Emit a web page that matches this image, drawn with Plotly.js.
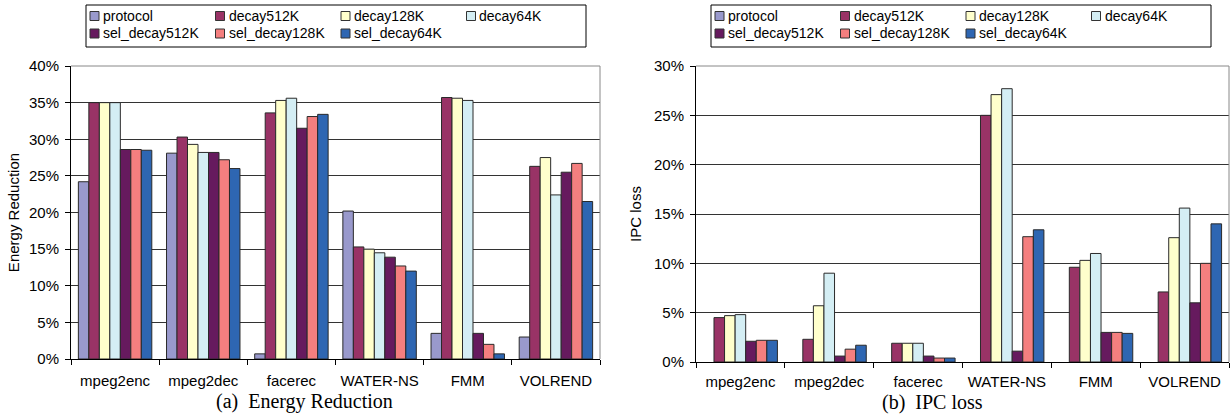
<!DOCTYPE html>
<html>
<head>
<meta charset="utf-8">
<script src="https://cdn.plot.ly/plotly-3.0.1.min.js"></script>
<style>html,body{margin:0;padding:0;background:#fff;}#chart{width:1230px;height:417px;}</style>
</head>
<body>
<div id="chart"></div>
<script>
// ---- data ----
const categories = ["mpeg2enc", "mpeg2dec", "facerec", "WATER-NS", "FMM", "VOLREND"];
const seriesNames = ["protocol", "decay512K", "decay128K", "decay64K", "sel_decay512K", "sel_decay128K", "sel_decay64K"];

// (a) Energy Reduction (%)
const energyProtocol   = [24.2, 28.1, 0.7, 20.2, 3.5, 3.0];
const energyDecay512K  = [35.0, 30.3, 33.6, 15.3, 35.7, 26.3];
const energyDecay128K  = [35.0, 29.3, 35.3, 15.0, 35.6, 27.5];
const energyDecay64K   = [35.0, 28.2, 35.6, 14.5, 35.3, 22.4];
const energySel512K    = [28.6, 28.2, 31.5, 13.9, 3.5, 25.5];
const energySel128K    = [28.6, 27.2, 33.1, 12.7, 2.0, 26.7];
const energySel64K     = [28.5, 26.0, 33.4, 12.0, 0.7, 21.5];

// (b) IPC loss (%)
const ipcProtocol   = [0, 0, 0, 0, 0, 0];
const ipcDecay512K  = [4.5, 2.3, 1.9, 25.0, 9.6, 7.1];
const ipcDecay128K  = [4.7, 5.7, 1.9, 27.1, 10.3, 12.6];
const ipcDecay64K   = [4.8, 9.0, 1.9, 27.7, 11.0, 15.6];
const ipcSel512K    = [2.1, 0.6, 0.6, 1.1, 3.0, 6.0];
const ipcSel128K    = [2.2, 1.3, 0.4, 12.7, 3.0, 10.0];
const ipcSel64K     = [2.2, 1.7, 0.4, 13.4, 2.9, 14.0];

const energyTicks = [0, 5, 10, 15, 20, 25, 30, 35, 40];
const energyTickText = ["0%", "5%", "10%", "15%", "20%", "25%", "30%", "35%", "40%"];
const ipcTicks = [0, 5, 10, 15, 20, 25, 30];
const ipcTickText = ["0%", "5%", "10%", "15%", "20%", "25%", "30%"];

// ---- styling ----
const colors = ["#9999CC", "#993366", "#FFFFCC", "#D4EEF4", "#661A5E", "#F47F7F", "#2E66B2"];
const energySeries = [energyProtocol, energyDecay512K, energyDecay128K, energyDecay64K, energySel512K, energySel128K, energySel64K];
const ipcSeries = [ipcProtocol, ipcDecay512K, ipcDecay128K, ipcDecay64K, ipcSel512K, ipcSel128K, ipcSel64K];

const outlineWidths = vals => vals.map(v => (v === 0 ? 0 : 1));
const traces = [];
seriesNames.forEach((n, i) => {
  traces.push({type: "bar", name: n, x: categories, y: energySeries[i], xaxis: "x", yaxis: "y",
    marker: {color: colors[i], line: {color: "#2a2a2a", width: outlineWidths(energySeries[i])}}, showlegend: false, hoverinfo: "skip"});
});
seriesNames.forEach((n, i) => {
  traces.push({type: "bar", name: n, x: categories, y: ipcSeries[i], xaxis: "x2", yaxis: "y2",
    marker: {color: colors[i], line: {color: "#2a2a2a", width: outlineWidths(ipcSeries[i])}}, showlegend: false, hoverinfo: "skip"});
});

const W = 1230, H = 417;
const fx = p => p / W, fy = p => 1 - p / H;
const font = {family: "Liberation Sans, Arial, sans-serif", size: 15, color: "#000"};
const legFont = {family: "Liberation Sans, Arial, sans-serif", size: 14, color: "#000"};

const xCommon = {type: "category", showline: true, linecolor: "#000", linewidth: 1, ticks: "outside", ticklen: 5,
  tickcolor: "#000", tickson: "boundaries", showgrid: false, tickfont: font, fixedrange: true};
const yCommon = {showline: true, linecolor: "#000", linewidth: 1, ticks: "outside", ticklen: 5, tickcolor: "#000",
  showgrid: true, gridcolor: "#333", gridwidth: 1, zeroline: false, tickfont: font, ticklabelstandoff: 3, fixedrange: true};

// ---- plot frame (grey top/right) and hand-drawn legend boxes (one per panel) ----
const shapes = [
  {type: "line", xref: "x domain", yref: "y domain", x0: 0, x1: 1, y0: 1, y1: 1, line: {color: "#888", width: 1}, layer: "above"},
  {type: "line", xref: "x domain", yref: "y domain", x0: 1, x1: 1, y0: 0, y1: 1, line: {color: "#888", width: 1}, layer: "above"},
  {type: "line", xref: "x2 domain", yref: "y2 domain", x0: 0, x1: 1, y0: 1, y1: 1, line: {color: "#888", width: 1}, layer: "above"},
  {type: "line", xref: "x2 domain", yref: "y2 domain", x0: 1, x1: 1, y0: 0, y1: 1, line: {color: "#888", width: 1}, layer: "above"}
];
const annotations = [
  {text: "(a)\u00a0 Energy Reduction", xref: "paper", yref: "paper", x: fx(304), y: fy(401), xanchor: "center", yanchor: "middle",
    showarrow: false, font: {family: "Liberation Serif, Times New Roman, serif", size: 20, color: "#000"}},
  {text: "(b)\u00a0 IPC loss", xref: "paper", yref: "paper", x: fx(932), y: fy(402), xanchor: "center", yanchor: "middle",
    showarrow: false, font: {family: "Liberation Serif, Times New Roman, serif", size: 20, color: "#000"}}
];
[86, 711].forEach(left => {
  shapes.push({type: "rect", xref: "paper", yref: "paper", x0: fx(left), x1: fx(left + 500), y0: fy(47), y1: fy(5),
    line: {color: "#000", width: 1}, fillcolor: "#fff", layer: "above"});
  seriesNames.forEach((n, i) => {
    const col = i % 4, row = Math.floor(i / 4);
    const sx = left + 4 + col * 125.5, cy = 16 + row * 17.5;
    shapes.push({type: "rect", xref: "paper", yref: "paper", x0: fx(sx), x1: fx(sx + 9), y0: fy(cy + 4.5), y1: fy(cy - 4.5),
      line: {color: "#333", width: 1}, fillcolor: colors[i], layer: "above"});
    annotations.push({text: n, xref: "paper", yref: "paper", x: fx(sx + 11), y: fy(cy), xanchor: "left", yanchor: "middle",
      showarrow: false, font: legFont});
  });
});

const layout = {
  width: W, height: H, margin: {l: 0, r: 0, t: 0, b: 0}, paper_bgcolor: "#fff", plot_bgcolor: "#fff",
  barmode: "group", bargap: 0.167, bargroupgap: 0, showlegend: false, font: font,
  xaxis: Object.assign({}, xCommon, {domain: [fx(71), fx(600)], anchor: "y", ticklabelstandoff: 8}),
  yaxis: Object.assign({}, yCommon, {domain: [fy(359), fy(66)], range: [0, 40], tickvals: energyTicks, ticktext: energyTickText, anchor: "x",
    title: {text: "Energy Reduction", font: font, standoff: 5}}),
  xaxis2: Object.assign({}, xCommon, {domain: [fx(696), fx(1229)], anchor: "y2", ticklabelstandoff: 6}),
  yaxis2: Object.assign({}, yCommon, {domain: [fy(362), fy(66)], range: [0, 30], tickvals: ipcTicks, ticktext: ipcTickText, anchor: "x2",
    title: {text: "IPC loss", font: font, standoff: 8}}),
  shapes: shapes,
  annotations: annotations
};

Plotly.newPlot("chart", traces, layout, {staticPlot: true, displayModeBar: false});
</script>
</body>
</html>
